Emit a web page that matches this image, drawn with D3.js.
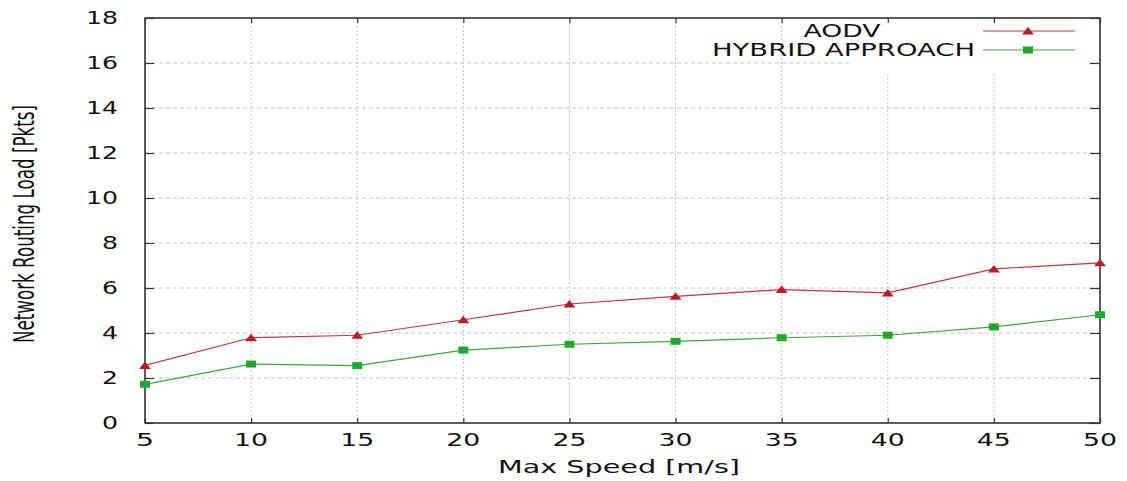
<!DOCTYPE html>
<html>
<head>
<meta charset="utf-8">
<style>
  body { margin: 0; background: #fff; }
  svg { display: block; }
  text { font-family: "DejaVu Sans", sans-serif; fill: #111; }
</style>
</head>
<body>
<div id="chart"></div>
<script src="https://d3js.org/d3.v7.min.js"></script>
<script>
// data
const speeds = [5, 10, 15, 20, 25, 30, 35, 40, 45, 50];
const aodv = [2.56, 3.79, 3.90, 4.59, 5.29, 5.63, 5.93, 5.78, 6.85, 7.12];
const hybrid = [1.72, 2.62, 2.55, 3.24, 3.50, 3.63, 3.79, 3.90, 4.27, 4.81];
const yTicks = [0, 2, 4, 6, 8, 10, 12, 14, 16, 18];
const seriesNames = ["AODV", "HYBRID APPROACH"];

const width = 1127, height = 481;
const plotLeft = 145, plotRight = 1100, plotTop = 18, plotBottom = 423;

const svg = d3.select("#chart").append("svg")
    .attr("width", width)
    .attr("height", height);

const x = d3.scaleLinear().domain([5, 50]).range([plotLeft, plotRight]);
const y = d3.scaleLinear().domain([0, 18]).range([plotBottom, plotTop]);

// grid
svg.append("g").selectAll("line")
  .data(yTicks.slice(1, -1))
  .join("line")
    .attr("x1", plotLeft).attr("x2", plotRight)
    .attr("y1", d => y(d)).attr("y2", d => y(d))
    .attr("stroke", "#c4c4c4")
    .attr("stroke-dasharray", "4,3");

svg.append("g").selectAll("line")
  .data(speeds.slice(1, -1))
  .join("line")
    .attr("x1", d => x(d)).attr("x2", d => x(d))
    .attr("y1", plotTop).attr("y2", plotBottom)
    .attr("stroke", "#c4c4c4")
    .attr("stroke-dasharray", "2,2");

// legend background hides the grid behind it
svg.append("rect")
    .attr("x", 850).attr("y", plotTop + 1)
    .attr("width", 240).attr("height", 56)
    .attr("fill", "#fff");

// axes with inward ticks (gnuplot style)
const axisColor = "#333";
const yAxis = svg.append("g")
    .attr("transform", `translate(${plotLeft},0)`)
    .call(d3.axisRight(y).tickValues(yTicks).tickSize(9).tickFormat(""));
const yAxisR = svg.append("g")
    .attr("transform", `translate(${plotRight},0)`)
    .call(d3.axisLeft(y).tickValues(yTicks).tickSize(10).tickFormat(""));
const xAxisT = svg.append("g")
    .attr("transform", `translate(0,${plotTop})`)
    .call(d3.axisBottom(x).tickValues(speeds).tickSize(5).tickFormat(""));
const xAxisB = svg.append("g")
    .attr("transform", `translate(0,${plotBottom})`)
    .call(d3.axisTop(x).tickValues(speeds).tickSize(5).tickFormat(""));
[yAxis, yAxisR, xAxisT, xAxisB].forEach(a => {
  a.select(".domain").remove();
  a.selectAll("line").attr("stroke", axisColor).attr("stroke-width", 1.2);
});

svg.append("rect")
    .attr("x", plotLeft).attr("y", plotTop)
    .attr("width", plotRight - plotLeft).attr("height", plotBottom - plotTop)
    .attr("fill", "none")
    .attr("stroke", axisColor)
    .attr("stroke-width", 1.6);

// tick labels
svg.append("g").selectAll("text")
  .data(yTicks)
  .join("text")
    .attr("x", 118)
    .attr("y", d => y(d))
    .attr("dy", "0.36em")
    .attr("text-anchor", "end")
    .attr("font-size", 18)
    .attr("textLength", d => String(d).length * 16)
    .attr("lengthAdjust", "spacingAndGlyphs")
    .text(d => d);

svg.append("g").selectAll("text")
  .data(speeds)
  .join("text")
    .attr("x", d => x(d))
    .attr("y", 440)
    .attr("dy", "0.36em")
    .attr("text-anchor", "middle")
    .attr("font-size", 18)
    .attr("textLength", d => String(d).length * 16 + 2)
    .attr("lengthAdjust", "spacingAndGlyphs")
    .text(d => d);

// axis titles
svg.append("text")
    .attr("x", 619).attr("y", 467)
    .attr("dy", "0.36em")
    .attr("text-anchor", "middle")
    .attr("font-size", 18)
    .attr("textLength", 242)
    .attr("lengthAdjust", "spacingAndGlyphs")
    .text("Max Speed [m/s]");

// tall, narrow y title: stretch the glyph height (screen x after the rotation)
svg.append("text")
    .attr("transform", "translate(24,224) rotate(-90) scale(1,1.7)")
    .attr("dy", "0.36em")
    .attr("text-anchor", "middle")
    .attr("font-size", 17)
    .attr("textLength", 238)
    .attr("lengthAdjust", "spacingAndGlyphs")
    .text("Network Routing Load [Pkts]");

// series
const series = [
  { name: seriesNames[0], values: aodv, line: "#c8333a", mark: "#b81c24", shape: "tri" },
  { name: seriesNames[1], values: hybrid, line: "#3aa83a", mark: "#1fa82a", shape: "sq" }
];

const line = d3.line().x(d => x(d[0])).y(d => y(d[1]));

function marker(g, shape, color) {
  if (shape === "tri") {
    g.append("path").attr("d", "M-6,3.5L0,-4L6,3.5Z").attr("fill", color);
  } else {
    g.append("rect").attr("x", -5).attr("y", -3.5).attr("width", 10).attr("height", 7).attr("fill", color);
  }
}

series.forEach(s => {
  const pts = speeds.map((sp, i) => [sp, s.values[i]]);
  svg.append("path")
      .datum(pts)
      .attr("d", line)
      .attr("fill", "none")
      .attr("stroke", s.line)
      .attr("stroke-width", 1.2);
  pts.forEach(p => {
    const g = svg.append("g").attr("transform", `translate(${x(p[0])},${y(p[1])})`);
    marker(g, s.shape, s.mark);
  });
});

// legend
const legendY = [31, 50];
svg.append("text")
    .attr("x", 842).attr("y", legendY[0])
    .attr("dy", "0.36em")
    .attr("text-anchor", "middle")
    .attr("font-size", 17)
    .attr("textLength", 77)
    .attr("lengthAdjust", "spacingAndGlyphs")
    .text(series[0].name);
svg.append("text")
    .attr("x", 975).attr("y", legendY[1])
    .attr("dy", "0.36em")
    .attr("text-anchor", "end")
    .attr("font-size", 17)
    .attr("textLength", 263)
    .attr("lengthAdjust", "spacingAndGlyphs")
    .text(series[1].name);

series.forEach((s, i) => {
  svg.append("line")
      .attr("x1", 983).attr("x2", 1075)
      .attr("y1", legendY[i]).attr("y2", legendY[i])
      .attr("stroke", s.line)
      .attr("stroke-width", 1.2);
  const g = svg.append("g").attr("transform", `translate(1028,${legendY[i]})`);
  marker(g, s.shape, s.mark);
});
</script>
</body>
</html>
